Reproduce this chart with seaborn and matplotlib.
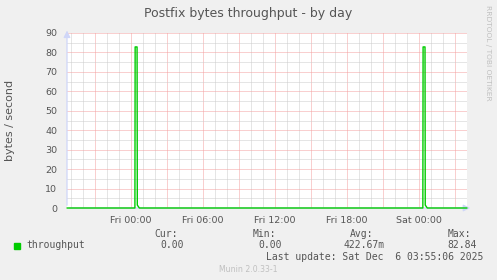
import matplotlib
matplotlib.use("Agg")
import matplotlib.pyplot as plt
import seaborn as sns
import pandas as pd
import numpy as np

# ---- data (hours relative to Fri 00:00) ----
hours = [-5.31, 0.35, 0.37, 0.53, 0.55, 0.72, 24.35, 24.37, 24.53, 24.55, 24.72, 28.03]
throughput = [0, 0, 82.84, 82.84, 1.5, 0, 0, 82.84, 82.84, 1.5, 0, 0]
xtick_hours = [0, 6, 12, 18, 24]
xtick_labels = ["Fri 00:00", "Fri 06:00", "Fri 12:00", "Fri 18:00", "Sat 00:00"]
ytick_values = [0, 10, 20, 30, 40, 50, 60, 70, 80, 90]
legend_headers = ["Cur:", "Min:", "Avg:", "Max:"]
legend_values = ["0.00", "0.00", "422.67m", "82.84"]
title = "Postfix bytes throughput - by day"
ylabel = "bytes / second"
series_name = "throughput"
last_update = "Last update: Sat Dec  6 03:55:06 2025"
footer = "Munin 2.0.33-1"
side_text = "RRDTOOL / TOBI OETIKER"

df = pd.DataFrame({"hour": hours, "value": throughput})

W, H = 497, 280
BG = "#F0F0F0"
FONT = "#555555"
AXIS = "#CFD6F8"
GREEN = "#00CC00"

sns.set_style("white")
plt.rcParams["font.family"] = ["DejaVu Sans"]

fig = plt.figure(figsize=(W / 100, H / 100), dpi=100, facecolor=BG)
left, right, top, bottom = 67, 467, 33, 208
ax = fig.add_axes([left / W, 1 - bottom / H, (right - left) / W, (bottom - top) / H])
ax.set_facecolor("white")

# axes with arrows (drawn first so the data line sits on top)
ax.annotate("", xy=(0, 1.03), xytext=(0, 0), xycoords="axes fraction",
            arrowprops=dict(arrowstyle="-|>,head_length=0.4,head_width=0.2", color=AXIS, lw=0.9),
            annotation_clip=False, zorder=3)
ax.annotate("", xy=(1.015, 0), xytext=(0, 0), xycoords="axes fraction",
            arrowprops=dict(arrowstyle="-|>,head_length=0.4,head_width=0.2", color=AXIS, lw=0.9),
            annotation_clip=False, zorder=3)

sns.lineplot(data=df, x="hour", y="value", ax=ax, color=GREEN, linewidth=1.0,
             estimator=None, legend=False, zorder=5)
for ln in ax.lines:
    ln.set_clip_on(False)

ax.set_xlim(-5.31, 28.03)
ax.set_ylim(0, 90)

# grid
major_x = np.arange(-3, 28.1, 3)
minor_x = np.arange(-5, 28.1, 1)
lab_map = dict(zip(xtick_hours, xtick_labels))
ax.set_xticks(major_x)
ax.set_xticklabels([lab_map.get(int(h), "") for h in major_x])
ax.set_xticks(minor_x, minor=True)
ax.set_yticks(ytick_values)
ax.set_yticklabels([str(v) for v in ytick_values])
ax.set_yticks(np.arange(5, 90, 10), minor=True)

ax.grid(which="minor", color="#CCCCCC", linestyle=(0, (1, 1)), linewidth=0.72, zorder=1)
ax.grid(which="major", color="#F4A0A0", linestyle=(0, (1, 1)), linewidth=0.72, zorder=2)
ax.set_axisbelow(True)

ax.tick_params(axis="both", which="major", length=2, width=0.7, color="#F4A0A0",
               labelsize=6.8, labelcolor=FONT)
ax.tick_params(axis="both", which="minor", length=2, width=0.7, color="#CCCCCC")
ax.tick_params(axis="x", which="major", pad=4)
ax.tick_params(axis="y", which="major", pad=5)
ax.set_xlabel("")
ax.set_ylabel("")
for s in ax.spines.values():
    s.set_visible(False)

# texts
fig.text(0.5, 1 - 14 / H, title, ha="center", va="center", fontsize=9, color=FONT)
fig.text(10 / W, 1 - 120 / H, ylabel, ha="center", va="center", rotation=90,
         fontsize=8, color=FONT)
fig.text(488 / W, 1 - 5 / H, side_text, ha="center", va="top", rotation=270,
         fontsize=5.4, color="#C0C0C0")

mono = "DejaVu Sans Mono"
fig.patches.append(plt.Rectangle((14 / W, 1 - 248.5 / H), 6 / W, 6 / H,
                                 transform=fig.transFigure, color=GREEN, figure=fig))
fig.text(26.7 / W, 1 - 245.5 / H, series_name, ha="left", va="center",
         fontsize=7, family=mono, color=FONT)
hdr_x = [154.7, 252.7, 350.0, 447.7]
val_x = [160.7, 258.3, 343.3, 447.7]
for hx, vx, hd, vl in zip(hdr_x, val_x, legend_headers, legend_values):
    fig.text(hx / W, 1 - 234 / H, hd, ha="left", va="center", fontsize=7,
             family=mono, color=FONT)
    fig.text(vx / W, 1 - 245.5 / H, vl, ha="left", va="center", fontsize=7,
             family=mono, color=FONT)
fig.text(483 / W, 1 - 257.5 / H, last_update, ha="right", va="center", fontsize=7,
         family=mono, color=FONT)
fig.text(248 / W, 1 - 269 / H, footer, ha="center", va="center", fontsize=5.6,
         color="#C0C0C0")

fig.savefig("out.png", dpi=100, facecolor=BG)
